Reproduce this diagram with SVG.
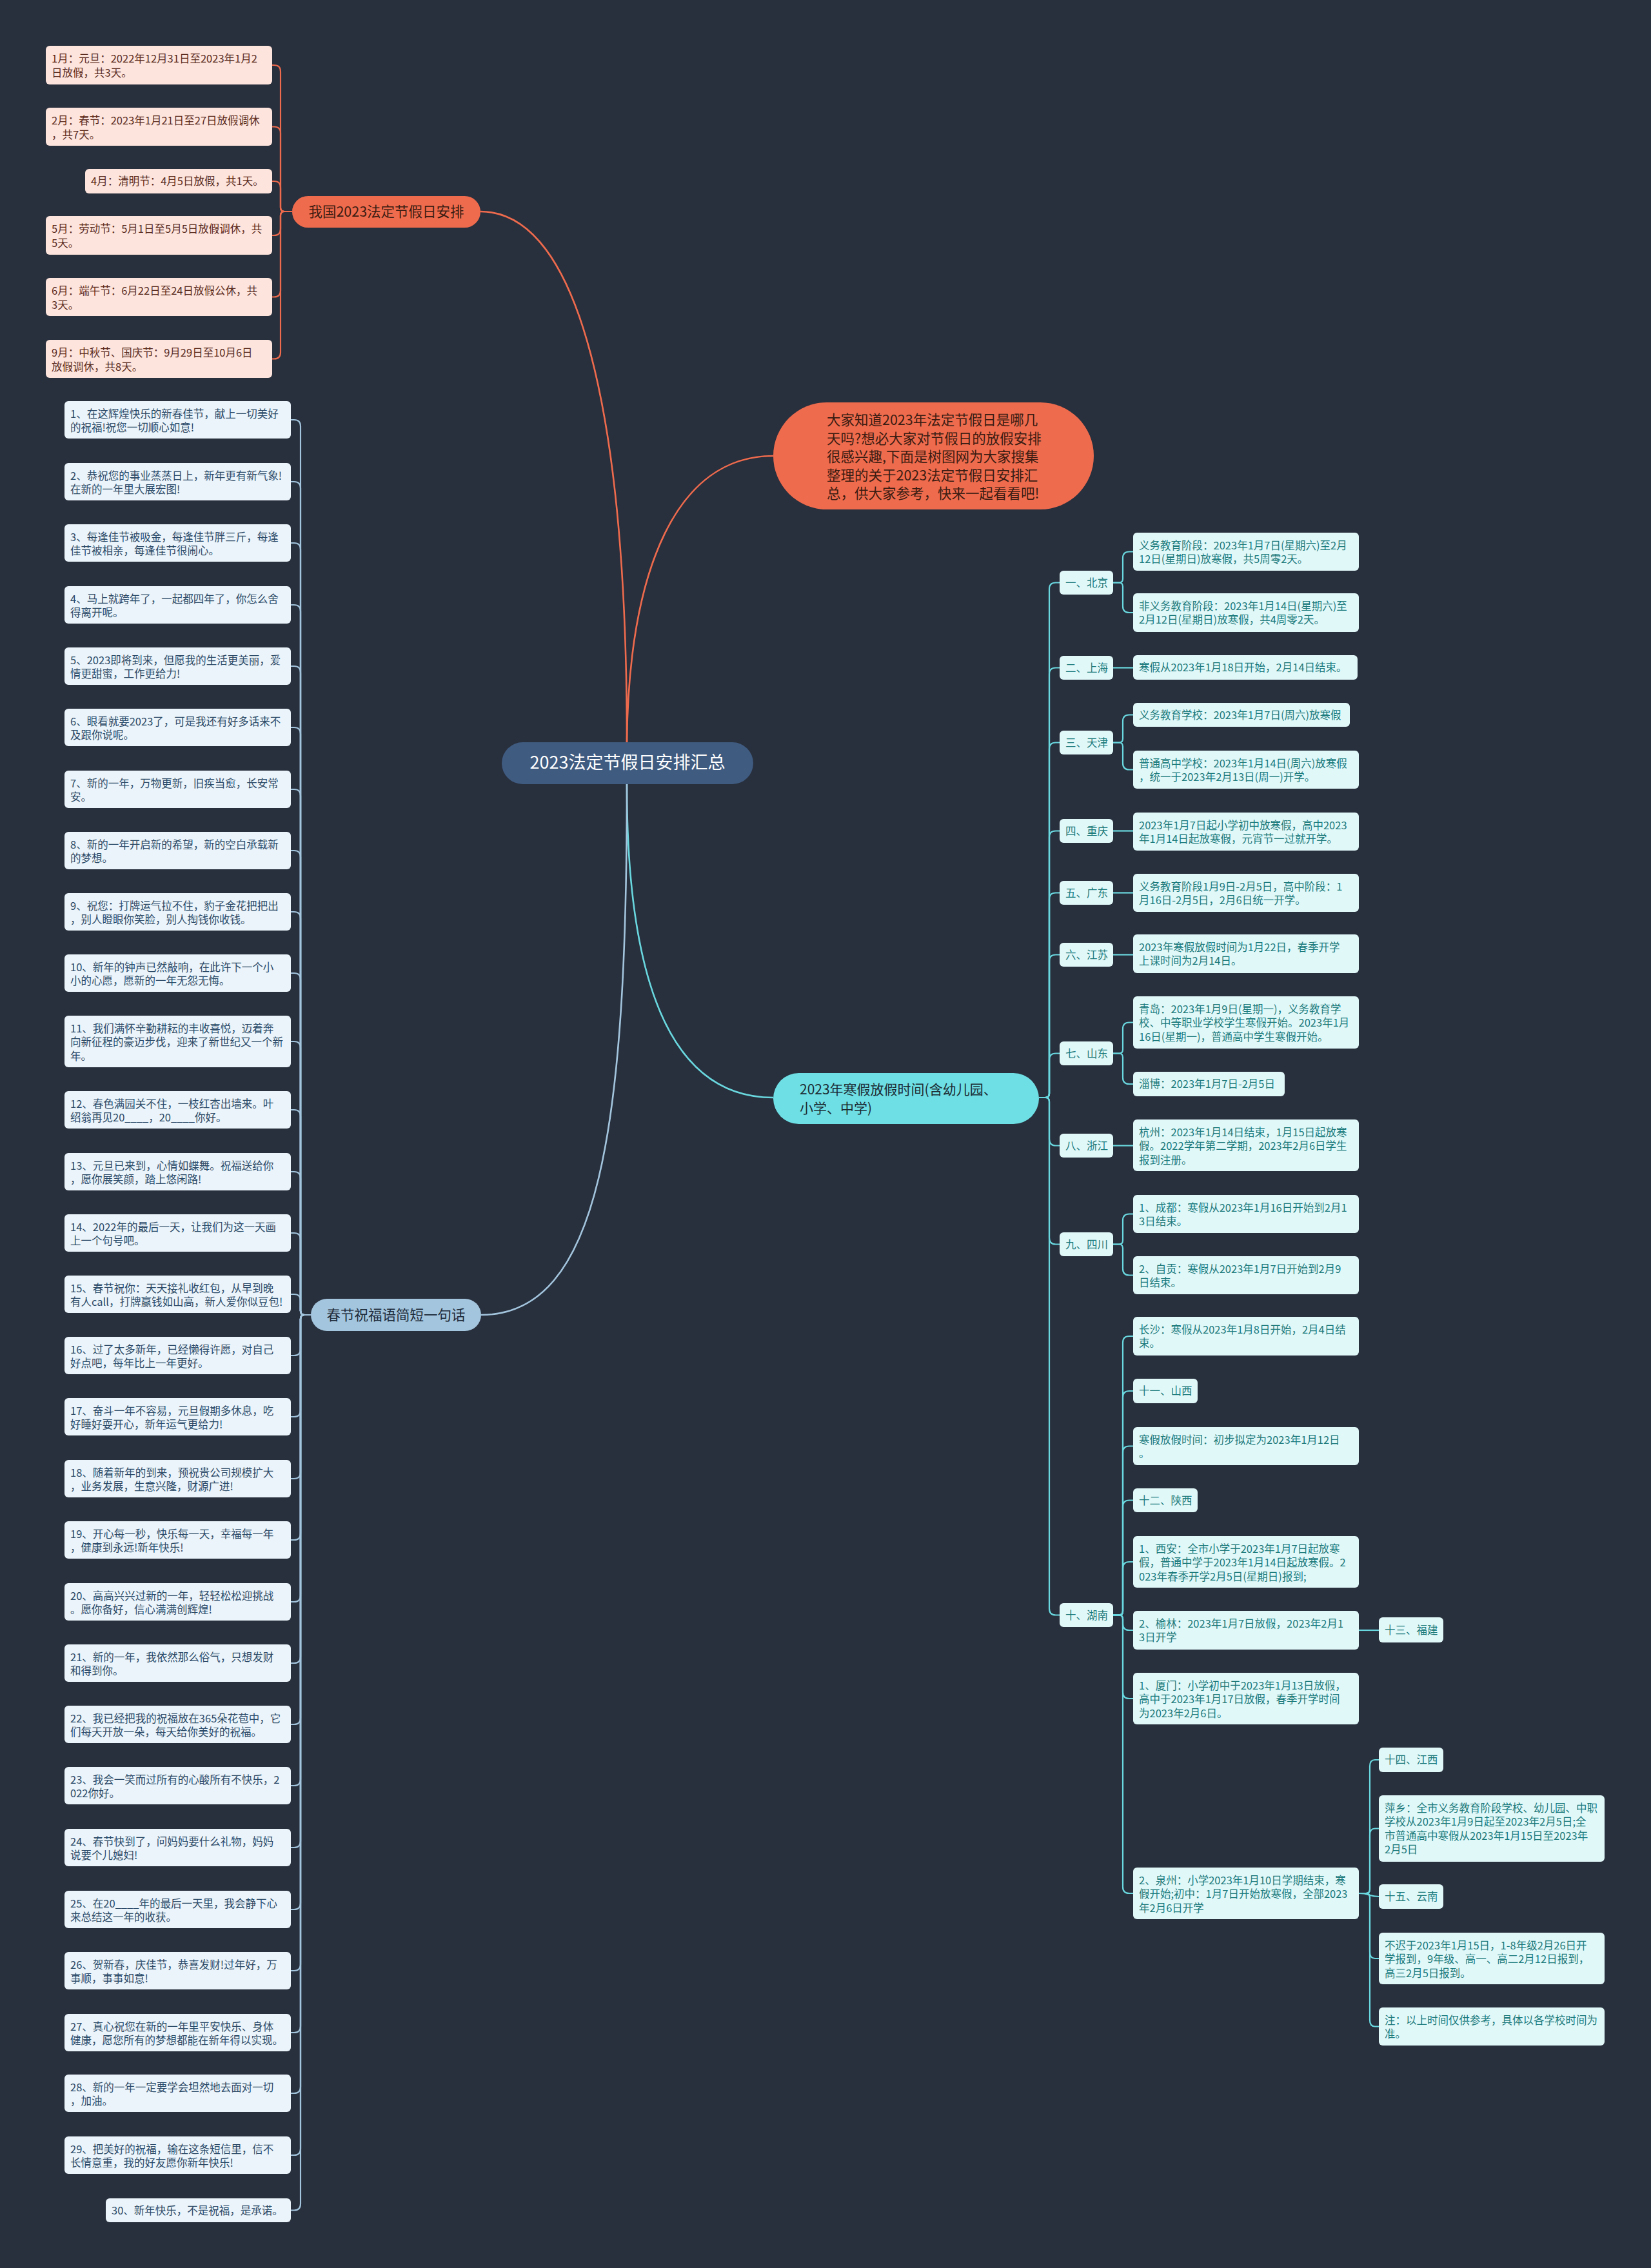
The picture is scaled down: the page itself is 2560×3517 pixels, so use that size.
<svg xmlns="http://www.w3.org/2000/svg" width="2560" height="3517" viewBox="0 0 2560 3517">
<style>
text{font-family:"Noto Sans CJK SC","Noto Sans",sans-serif;font-size:16.5px}
.c path{fill:none;stroke-width:2.2}
.co path{stroke:#ef6b4d}
.cc path{stroke:#6ad8df}
.cb path{stroke:#a3c5dd}
.main{stroke-width:2.6!important}
.tl rect{fill:#fde4dc}.tl text{fill:#5a2b1e}
.rl rect{fill:#e1f8f9}.rl text{fill:#1b7a7b}
.bl rect{fill:#ebf4fa}.bl text{fill:#2b4a68}
.big{font-size:21.5px}
</style>
<rect width="2560" height="3517" fill="#282f3d"/>

<g id="connectors" class="c">
<g class="co">
<path class="main" d="M745,328 C900,328 972,650 972,1151"/>
<path class="main" d="M972,1151 C975,880 1050,707 1199,707"/>
<path d="M453,328H441Q435,328 435,322V111Q435,101 425,101H422"/>
<path d="M453,328H441Q435,328 435,322V206.5Q435,196.5 425,196.5H422"/>
<path d="M453,328H441Q435,328 435,322V291Q435,281 425,281H422"/>
<path d="M453,328H441Q435,328 435,334V355Q435,365 425,365H422"/>
<path d="M453,328H441Q435,328 435,334V450.5Q435,460.5 425,460.5H422"/>
<path d="M453,328H441Q435,328 435,334V546.5Q435,556.5 425,556.5H422"/>
</g>
<g class="cc">
<path class="main" d="M972,1216 C972,1500 1030,1702 1199,1702"/>
<path d="M1611,1702H1621Q1627,1702 1627,1696V913.5Q1627,903.5 1637,903.5H1643"/>
<path d="M1611,1702H1621Q1627,1702 1627,1696V1045.5Q1627,1035.5 1637,1035.5H1643"/>
<path d="M1611,1702H1621Q1627,1702 1627,1696V1161.5Q1627,1151.5 1637,1151.5H1643"/>
<path d="M1611,1702H1621Q1627,1702 1627,1696V1298.5Q1627,1288.5 1637,1288.5H1643"/>
<path d="M1611,1702H1621Q1627,1702 1627,1696V1394.5Q1627,1384.5 1637,1384.5H1643"/>
<path d="M1611,1702H1621Q1627,1702 1627,1696V1490.5Q1627,1480.5 1637,1480.5H1643"/>
<path d="M1611,1702H1621Q1627,1702 1627,1696V1643.5Q1627,1633.5 1637,1633.5H1643"/>
<path d="M1611,1702H1621Q1627,1702 1627,1708V1766.5Q1627,1776.5 1637,1776.5H1643"/>
<path d="M1611,1702H1621Q1627,1702 1627,1708V1919.5Q1627,1929.5 1637,1929.5H1643"/>
<path d="M1611,1702H1621Q1627,1702 1627,1708V2494.5Q1627,2504.5 1637,2504.5H1643"/>
<path d="M1726,903.5H1735Q1741,903.5 1741,897.5V865.5Q1741,855.5 1751,855.5H1757"/>
<path d="M1726,903.5H1735Q1741,903.5 1741,909.5V940Q1741,950 1751,950H1757"/>
<path d="M1726,1035.5H1757"/>
<path d="M1726,1151.5H1735Q1741,1151.5 1741,1145.5V1118.5Q1741,1108.5 1751,1108.5H1757"/>
<path d="M1726,1151.5H1735Q1741,1151.5 1741,1157.5V1183.5Q1741,1193.5 1751,1193.5H1757"/>
<path d="M1726,1288.5H1757"/>
<path d="M1726,1384.5H1757"/>
<path d="M1726,1480.5H1757"/>
<path d="M1726,1633.5H1735Q1741,1633.5 1741,1627.5V1595.5Q1741,1585.5 1751,1585.5H1757"/>
<path d="M1726,1633.5H1735Q1741,1633.5 1741,1639.5V1671Q1741,1681 1751,1681H1757"/>
<path d="M1726,1776.5H1757"/>
<path d="M1726,1929.5H1735Q1741,1929.5 1741,1923.5V1892.5Q1741,1882.5 1751,1882.5H1757"/>
<path d="M1726,1929.5H1735Q1741,1929.5 1741,1935.5V1967.5Q1741,1977.5 1751,1977.5H1757"/>
<path d="M1726,2504.5H1735Q1741,2504.5 1741,2498.5V2082Q1741,2072 1751,2072H1757"/>
<path d="M1726,2504.5H1735Q1741,2504.5 1741,2498.5V2167Q1741,2157 1751,2157H1757"/>
<path d="M1726,2504.5H1735Q1741,2504.5 1741,2498.5V2252.5Q1741,2242.5 1751,2242.5H1757"/>
<path d="M1726,2504.5H1735Q1741,2504.5 1741,2498.5V2336.5Q1741,2326.5 1751,2326.5H1757"/>
<path d="M1726,2504.5H1735Q1741,2504.5 1741,2498.5V2432Q1741,2422 1751,2422H1757"/>
<path d="M1726,2504.5H1735Q1741,2504.5 1741,2510.5V2518Q1741,2528 1751,2528H1757"/>
<path d="M1726,2504.5H1735Q1741,2504.5 1741,2510.5V2624Q1741,2634 1751,2634H1757"/>
<path d="M1726,2504.5H1735Q1741,2504.5 1741,2510.5V2926Q1741,2936 1751,2936H1757"/>
<path d="M2107,2528H2138"/>
<path d="M2107,2936H2118Q2124,2936 2124,2930V2739Q2124,2729 2132,2729H2138"/>
<path d="M2107,2936H2118Q2124,2936 2124,2930V2845.5Q2124,2835.5 2132,2835.5H2138"/>
<path d="M2107,2936C2124,2936 2122,2941 2138,2941"/>
<path d="M2107,2936H2118Q2124,2936 2124,2942V3027Q2124,3037 2132,3037H2138"/>
<path d="M2107,2936H2118Q2124,2936 2124,2942V3132.5Q2124,3142.5 2132,3142.5H2138"/>
</g>
<g class="cb">
<path class="main" d="M972,1216 C972,1750 930,2039 746,2039"/>
<path d="M482,2039H472Q466,2039 466,2033V661Q466,651 456,651H451"/>
<path d="M482,2039H472Q466,2039 466,2033V757Q466,747 456,747H451"/>
<path d="M482,2039H472Q466,2039 466,2033V852Q466,842 456,842H451"/>
<path d="M482,2039H472Q466,2039 466,2033V948Q466,938 456,938H451"/>
<path d="M482,2039H472Q466,2039 466,2033V1043Q466,1033 456,1033H451"/>
<path d="M482,2039H472Q466,2039 466,2033V1138Q466,1128 456,1128H451"/>
<path d="M482,2039H472Q466,2039 466,2033V1234Q466,1224 456,1224H451"/>
<path d="M482,2039H472Q466,2039 466,2033V1329Q466,1319 456,1319H451"/>
<path d="M482,2039H472Q466,2039 466,2033V1424Q466,1414 456,1414H451"/>
<path d="M482,2039H472Q466,2039 466,2033V1519Q466,1509 456,1509H451"/>
<path d="M482,2039H472Q466,2039 466,2033V1625Q466,1615 456,1615H451"/>
<path d="M482,2039H472Q466,2039 466,2033V1731Q466,1721 456,1721H451"/>
<path d="M482,2039H472Q466,2039 466,2033V1827Q466,1817 456,1817H451"/>
<path d="M482,2039H472Q466,2039 466,2033V1922Q466,1912 456,1912H451"/>
<path d="M482,2039H472Q466,2039 466,2033V2017Q466,2007 456,2007H451"/>
<path d="M482,2039H472Q466,2039 466,2045V2092Q466,2102 456,2102H451"/>
<path d="M482,2039H472Q466,2039 466,2045V2187Q466,2197 456,2197H451"/>
<path d="M482,2039H472Q466,2039 466,2045V2283Q466,2293 456,2293H451"/>
<path d="M482,2039H472Q466,2039 466,2045V2378Q466,2388 456,2388H451"/>
<path d="M482,2039H472Q466,2039 466,2045V2474Q466,2484 456,2484H451"/>
<path d="M482,2039H472Q466,2039 466,2045V2569Q466,2579 456,2579H451"/>
<path d="M482,2039H472Q466,2039 466,2045V2664Q466,2674 456,2674H451"/>
<path d="M482,2039H472Q466,2039 466,2045V2759Q466,2769 456,2769H451"/>
<path d="M482,2039H472Q466,2039 466,2045V2855Q466,2865 456,2865H451"/>
<path d="M482,2039H472Q466,2039 466,2045V2951Q466,2961 456,2961H451"/>
<path d="M482,2039H472Q466,2039 466,2045V3046Q466,3056 456,3056H451"/>
<path d="M482,2039H472Q466,2039 466,2045V3142Q466,3152 456,3152H451"/>
<path d="M482,2039H472Q466,2039 466,2045V3236Q466,3246 456,3246H451"/>
<path d="M482,2039H472Q466,2039 466,2045V3332Q466,3342 456,3342H451"/>
<path d="M482,2039H472Q466,2039 466,2045V3417.5Q466,3427.5 456,3427.5H451"/>
</g>
</g>

<g id="center"><rect x="778" y="1151" width="390" height="65" rx="32.5" fill="#3f5b80"/><text x="973" y="1192" text-anchor="middle" fill="#ffffff" style="font-size:27px">2023法定节假日安排汇总</text></g>

<g id="intro"><rect x="1199" y="624" width="497" height="166" rx="83" fill="#ef6b4d"/><text class="big" x="1282" y="659" fill="#3b1c12"><tspan>大家知道2023年法定节假日是哪几</tspan><tspan x="1282" dy="28.6">天吗?想必大家对节假日的放假安排</tspan><tspan x="1282" dy="28.6">很感兴趣,下面是树图网为大家搜集</tspan><tspan x="1282" dy="28.6">整理的关于2023法定节假日安排汇</tspan><tspan x="1282" dy="28.6">总，供大家参考，快来一起看看吧!</tspan></text></g>

<g id="holiday"><rect x="453" y="304" width="292" height="49" rx="24.5" fill="#ef6b4d"/><text class="big" x="599" y="335.5" text-anchor="middle" fill="#3b1c12">我国2023法定节假日安排</text></g>
<g id="n-jan" class="tl"><rect x="71" y="71" width="351" height="60" rx="6"/><text x="80" y="97"><tspan>1月：元旦：2022年12月31日至2023年1月2</tspan><tspan x="80" dy="21.5">日放假，共3天。</tspan></text></g>
<g id="n-feb" class="tl"><rect x="71" y="167" width="351" height="59" rx="6"/><text x="80" y="193"><tspan>2月：春节：2023年1月21日至27日放假调休</tspan><tspan x="80" dy="21.5">，共7天。</tspan></text></g>
<g id="n-apr" class="tl"><rect x="132" y="262" width="290" height="38" rx="6"/><text x="141" y="287">4月：清明节：4月5日放假，共1天。</text></g>
<g id="n-may" class="tl"><rect x="71" y="335" width="351" height="60" rx="6"/><text x="80" y="361"><tspan>5月：劳动节：5月1日至5月5日放假调休，共</tspan><tspan x="80" dy="21.5">5天。</tspan></text></g>
<g id="n-jun" class="tl"><rect x="71" y="431" width="351" height="59" rx="6"/><text x="80" y="457"><tspan>6月：端午节：6月22日至24日放假公休，共</tspan><tspan x="80" dy="21.5">3天。</tspan></text></g>
<g id="n-sep" class="tl"><rect x="71" y="527" width="351" height="59" rx="6"/><text x="80" y="553"><tspan>9月：中秋节、国庆节：9月29日至10月6日</tspan><tspan x="80" dy="21.5">放假调休，共8天。</tspan></text></g>

<g id="winter"><rect x="1199" y="1664" width="412" height="79" rx="39.5" fill="#6edfe4"/><text x="1240" y="1697" fill="#1c2b33" style="font-size:21px"><tspan>2023年寒假放假时间(含幼儿园、</tspan><tspan x="1240" dy="29">小学、中学)</tspan></text></g>

<g id="p-bj" class="rl"><rect x="1643" y="885" width="83" height="37" rx="6"/><text x="1652" y="909.5">一、北京</text></g>
<g id="p-sh" class="rl"><rect x="1643" y="1017" width="83" height="37" rx="6"/><text x="1652" y="1041.5">二、上海</text></g>
<g id="p-tj" class="rl"><rect x="1643" y="1133" width="83" height="37" rx="6"/><text x="1652" y="1157.5">三、天津</text></g>
<g id="p-cq" class="rl"><rect x="1643" y="1270" width="83" height="37" rx="6"/><text x="1652" y="1294.5">四、重庆</text></g>
<g id="p-gd" class="rl"><rect x="1643" y="1366" width="83" height="37" rx="6"/><text x="1652" y="1390.5">五、广东</text></g>
<g id="p-js" class="rl"><rect x="1643" y="1462" width="83" height="37" rx="6"/><text x="1652" y="1486.5">六、江苏</text></g>
<g id="p-sd" class="rl"><rect x="1643" y="1615" width="83" height="37" rx="6"/><text x="1652" y="1639.5">七、山东</text></g>
<g id="p-zj" class="rl"><rect x="1643" y="1758" width="83" height="37" rx="6"/><text x="1652" y="1782.5">八、浙江</text></g>
<g id="p-sc" class="rl"><rect x="1643" y="1911" width="83" height="37" rx="6"/><text x="1652" y="1935.5">九、四川</text></g>
<g id="p-hn" class="rl"><rect x="1643" y="2486" width="83" height="37" rx="6"/><text x="1652" y="2510.5">十、湖南</text></g>

<g id="l-bj1" class="rl"><rect x="1757" y="826" width="350" height="59" rx="6"/><text x="1766" y="851.5"><tspan>义务教育阶段：2023年1月7日(星期六)至2月</tspan><tspan x="1766" dy="21.5">12日(星期日)放寒假，共5周零2天。</tspan></text></g>
<g id="l-bj2" class="rl"><rect x="1757" y="920" width="350" height="60" rx="6"/><text x="1766" y="945.5"><tspan>非义务教育阶段：2023年1月14日(星期六)至</tspan><tspan x="1766" dy="21.5">2月12日(星期日)放寒假，共4周零2天。</tspan></text></g>
<g id="l-sh1" class="rl"><rect x="1757" y="1016" width="348" height="38" rx="6"/><text x="1766" y="1041">寒假从2023年1月18日开始，2月14日结束。</text></g>
<g id="l-tj1" class="rl"><rect x="1757" y="1090" width="336" height="37" rx="6"/><text x="1766" y="1114.5">义务教育学校：2023年1月7日(周六)放寒假</text></g>
<g id="l-tj2" class="rl"><rect x="1757" y="1164" width="350" height="59" rx="6"/><text x="1766" y="1189.5"><tspan>普通高中学校：2023年1月14日(周六)放寒假</tspan><tspan x="1766" dy="21.5">，统一于2023年2月13日(周一)开学。</tspan></text></g>
<g id="l-cq1" class="rl"><rect x="1757" y="1260" width="350" height="59" rx="6"/><text x="1766" y="1285.5"><tspan>2023年1月7日起小学初中放寒假，高中2023</tspan><tspan x="1766" dy="21.5">年1月14日起放寒假，元宵节一过就开学。</tspan></text></g>
<g id="l-gd1" class="rl"><rect x="1757" y="1355" width="350" height="59" rx="6"/><text x="1766" y="1380.5"><tspan>义务教育阶段1月9日-2月5日，高中阶段：1</tspan><tspan x="1766" dy="21.5">月16日-2月5日，2月6日统一开学。</tspan></text></g>
<g id="l-js1" class="rl"><rect x="1757" y="1449" width="350" height="60" rx="6"/><text x="1766" y="1474.5"><tspan>2023年寒假放假时间为1月22日，春季开学</tspan><tspan x="1766" dy="21.5">上课时间为2月14日。</tspan></text></g>
<g id="l-sd1" class="rl"><rect x="1757" y="1545" width="350" height="81" rx="6"/><text x="1766" y="1570.5"><tspan>青岛：2023年1月9日(星期一)，义务教育学</tspan><tspan x="1766" dy="21.5">校、中等职业学校学生寒假开始。2023年1月</tspan><tspan x="1766" dy="21.5">16日(星期一)，普通高中学生寒假开始。</tspan></text></g>
<g id="l-sd2" class="rl"><rect x="1757" y="1662" width="235" height="38" rx="6"/><text x="1766" y="1687">淄博：2023年1月7日-2月5日</text></g>
<g id="l-zj1" class="rl"><rect x="1757" y="1736" width="350" height="80" rx="6"/><text x="1766" y="1761.5"><tspan>杭州：2023年1月14日结束，1月15日起放寒</tspan><tspan x="1766" dy="21.5">假。2022学年第二学期，2023年2月6日学生</tspan><tspan x="1766" dy="21.5">报到注册。</tspan></text></g>
<g id="l-sc1" class="rl"><rect x="1757" y="1853" width="350" height="59" rx="6"/><text x="1766" y="1878.5"><tspan>1、成都：寒假从2023年1月16日开始到2月1</tspan><tspan x="1766" dy="21.5">3日结束。</tspan></text></g>
<g id="l-sc2" class="rl"><rect x="1757" y="1948" width="350" height="59" rx="6"/><text x="1766" y="1973.5"><tspan>2、自贡：寒假从2023年1月7日开始到2月9</tspan><tspan x="1766" dy="21.5">日结束。</tspan></text></g>
<g id="l-cs" class="rl"><rect x="1757" y="2042" width="350" height="60" rx="6"/><text x="1766" y="2067.5"><tspan>长沙：寒假从2023年1月8日开始，2月4日结</tspan><tspan x="1766" dy="21.5">束。</tspan></text></g>
<g id="l-sx" class="rl"><rect x="1757" y="2138" width="100" height="38" rx="6"/><text x="1766" y="2163">十一、山西</text></g>
<g id="l-hj" class="rl"><rect x="1757" y="2213" width="350" height="59" rx="6"/><text x="1766" y="2238.5"><tspan>寒假放假时间：初步拟定为2023年1月12日</tspan><tspan x="1766" dy="21.5">。</tspan></text></g>
<g id="l-shx" class="rl"><rect x="1757" y="2308" width="100" height="37" rx="6"/><text x="1766" y="2332.5">十二、陕西</text></g>
<g id="l-xa" class="rl"><rect x="1757" y="2382" width="350" height="80" rx="6"/><text x="1766" y="2407.5"><tspan>1、西安：全市小学于2023年1月7日起放寒</tspan><tspan x="1766" dy="21.5">假，普通中学于2023年1月14日起放寒假。2</tspan><tspan x="1766" dy="21.5">023年春季开学2月5日(星期日)报到;</tspan></text></g>
<g id="l-yl" class="rl"><rect x="1757" y="2498" width="350" height="60" rx="6"/><text x="1766" y="2523.5"><tspan>2、榆林：2023年1月7日放假，2023年2月1</tspan><tspan x="1766" dy="21.5">3日开学</tspan></text></g>
<g id="l-fj" class="rl"><rect x="2138" y="2508" width="100" height="39" rx="6"/><text x="2147" y="2533.5">十三、福建</text></g>
<g id="l-xm" class="rl"><rect x="1757" y="2594" width="350" height="80" rx="6"/><text x="1766" y="2619.5"><tspan>1、厦门：小学初中于2023年1月13日放假，</tspan><tspan x="1766" dy="21.5">高中于2023年1月17日放假，春季开学时间</tspan><tspan x="1766" dy="21.5">为2023年2月6日。</tspan></text></g>
<g id="l-qz" class="rl"><rect x="1757" y="2896" width="350" height="80" rx="6"/><text x="1766" y="2921.5"><tspan>2、泉州：小学2023年1月10日学期结束，寒</tspan><tspan x="1766" dy="21.5">假开始;初中：1月7日开始放寒假，全部2023</tspan><tspan x="1766" dy="21.5">年2月6日开学</tspan></text></g>
<g id="l-jx" class="rl"><rect x="2138" y="2710" width="100" height="38" rx="6"/><text x="2147" y="2735">十四、江西</text></g>
<g id="l-px" class="rl"><rect x="2138" y="2784" width="350" height="103" rx="6"/><text x="2147" y="2809.5"><tspan>萍乡：全市义务教育阶段学校、幼儿园、中职</tspan><tspan x="2147" dy="21.5">学校从2023年1月9日起至2023年2月5日;全</tspan><tspan x="2147" dy="21.5">市普通高中寒假从2023年1月15日至2023年</tspan><tspan x="2147" dy="21.5">2月5日</tspan></text></g>
<g id="l-yn" class="rl"><rect x="2138" y="2922" width="100" height="38" rx="6"/><text x="2147" y="2947">十五、云南</text></g>
<g id="l-bc" class="rl"><rect x="2138" y="2997" width="350" height="80" rx="6"/><text x="2147" y="3022.5"><tspan>不迟于2023年1月15日，1-8年级2月26日开</tspan><tspan x="2147" dy="21.5">学报到，9年级、高一、高二2月12日报到，</tspan><tspan x="2147" dy="21.5">高三2月5日报到。</tspan></text></g>
<g id="l-zhu" class="rl"><rect x="2138" y="3113" width="350" height="59" rx="6"/><text x="2147" y="3138.5"><tspan>注：以上时间仅供参考，具体以各学校时间为</tspan><tspan x="2147" dy="21.5">准。</tspan></text></g>

<g id="greetings"><rect x="482" y="2014" width="264" height="50" rx="25" fill="#a3c5dd"/><text class="big" x="614" y="2046.5" text-anchor="middle" fill="#1e2b3a">春节祝福语简短一句话</text></g>
<g id="g1" class="bl"><rect x="100" y="622" width="351" height="58" rx="6"/><text x="109" y="647.5"><tspan>1、在这辉煌快乐的新春佳节，献上一切美好</tspan><tspan x="109" dy="21.5">的祝福!祝您一切顺心如意!</tspan></text></g>
<g id="g2" class="bl"><rect x="100" y="718" width="351" height="58" rx="6"/><text x="109" y="743.5"><tspan>2、恭祝您的事业蒸蒸日上，新年更有新气象!</tspan><tspan x="109" dy="21.5">在新的一年里大展宏图!</tspan></text></g>
<g id="g3" class="bl"><rect x="100" y="813" width="351" height="58" rx="6"/><text x="109" y="838.5"><tspan>3、每逢佳节被吸金，每逢佳节胖三斤，每逢</tspan><tspan x="109" dy="21.5">佳节被相亲，每逢佳节很闹心。</tspan></text></g>
<g id="g4" class="bl"><rect x="100" y="909" width="351" height="58" rx="6"/><text x="109" y="934.5"><tspan>4、马上就跨年了，一起都四年了，你怎么舍</tspan><tspan x="109" dy="21.5">得离开呢。</tspan></text></g>
<g id="g5" class="bl"><rect x="100" y="1004" width="351" height="58" rx="6"/><text x="109" y="1029.5"><tspan>5、2023即将到来，但愿我的生活更美丽，爱</tspan><tspan x="109" dy="21.5">情更甜蜜，工作更给力!</tspan></text></g>
<g id="g6" class="bl"><rect x="100" y="1099" width="351" height="58" rx="6"/><text x="109" y="1124.5"><tspan>6、眼看就要2023了，可是我还有好多话来不</tspan><tspan x="109" dy="21.5">及跟你说呢。</tspan></text></g>
<g id="g7" class="bl"><rect x="100" y="1195" width="351" height="58" rx="6"/><text x="109" y="1220.5"><tspan>7、新的一年，万物更新，旧疾当愈，长安常</tspan><tspan x="109" dy="21.5">安。</tspan></text></g>
<g id="g8" class="bl"><rect x="100" y="1290" width="351" height="58" rx="6"/><text x="109" y="1315.5"><tspan>8、新的一年开启新的希望，新的空白承载新</tspan><tspan x="109" dy="21.5">的梦想。</tspan></text></g>
<g id="g9" class="bl"><rect x="100" y="1385" width="351" height="58" rx="6"/><text x="109" y="1410.5"><tspan>9、祝您：打牌运气拉不住，豹子金花把把出</tspan><tspan x="109" dy="21.5">，别人瞪眼你笑脸，别人掏钱你收钱。</tspan></text></g>
<g id="g10" class="bl"><rect x="100" y="1480" width="351" height="58" rx="6"/><text x="109" y="1505.5"><tspan>10、新年的钟声已然敲响，在此许下一个小</tspan><tspan x="109" dy="21.5">小的心愿，愿新的一年无怨无悔。</tspan></text></g>
<g id="g11" class="bl"><rect x="100" y="1575" width="351" height="80" rx="6"/><text x="109" y="1600.5"><tspan>11、我们满怀辛勤耕耘的丰收喜悦，迈着奔</tspan><tspan x="109" dy="21.5">向新征程的豪迈步伐，迎来了新世纪又一个新</tspan><tspan x="109" dy="21.5">年。</tspan></text></g>
<g id="g12" class="bl"><rect x="100" y="1692" width="351" height="58" rx="6"/><text x="109" y="1717.5"><tspan>12、春色满园关不住，一枝红杏出墙来。叶</tspan><tspan x="109" dy="21.5">绍翁再见20____，20____你好。</tspan></text></g>
<g id="g13" class="bl"><rect x="100" y="1788" width="351" height="58" rx="6"/><text x="109" y="1813.5"><tspan>13、元旦已来到，心情如蝶舞。祝福送给你</tspan><tspan x="109" dy="21.5">，愿你展笑颜，踏上悠闲路!</tspan></text></g>
<g id="g14" class="bl"><rect x="100" y="1883" width="351" height="58" rx="6"/><text x="109" y="1908.5"><tspan>14、2022年的最后一天，让我们为这一天画</tspan><tspan x="109" dy="21.5">上一个句号吧。</tspan></text></g>
<g id="g15" class="bl"><rect x="100" y="1978" width="351" height="58" rx="6"/><text x="109" y="2003.5"><tspan>15、春节祝你：天天接礼收红包，从早到晚</tspan><tspan x="109" dy="21.5">有人call，打牌赢钱如山高，新人爱你似豆包!</tspan></text></g>
<g id="g16" class="bl"><rect x="100" y="2073" width="351" height="58" rx="6"/><text x="109" y="2098.5"><tspan>16、过了太多新年，已经懒得许愿，对自己</tspan><tspan x="109" dy="21.5">好点吧，每年比上一年更好。</tspan></text></g>
<g id="g17" class="bl"><rect x="100" y="2168" width="351" height="58" rx="6"/><text x="109" y="2193.5"><tspan>17、奋斗一年不容易，元旦假期多休息，吃</tspan><tspan x="109" dy="21.5">好睡好耍开心，新年运气更给力!</tspan></text></g>
<g id="g18" class="bl"><rect x="100" y="2264" width="351" height="58" rx="6"/><text x="109" y="2289.5"><tspan>18、随着新年的到来，预祝贵公司规模扩大</tspan><tspan x="109" dy="21.5">，业务发展，生意兴隆，财源广进!</tspan></text></g>
<g id="g19" class="bl"><rect x="100" y="2359" width="351" height="58" rx="6"/><text x="109" y="2384.5"><tspan>19、开心每一秒，快乐每一天，幸福每一年</tspan><tspan x="109" dy="21.5">，健康到永远!新年快乐!</tspan></text></g>
<g id="g20" class="bl"><rect x="100" y="2455" width="351" height="58" rx="6"/><text x="109" y="2480.5"><tspan>20、高高兴兴过新的一年，轻轻松松迎挑战</tspan><tspan x="109" dy="21.5">。愿你备好，信心满满创辉煌!</tspan></text></g>
<g id="g21" class="bl"><rect x="100" y="2550" width="351" height="58" rx="6"/><text x="109" y="2575.5"><tspan>21、新的一年，我依然那么俗气，只想发财</tspan><tspan x="109" dy="21.5">和得到你。</tspan></text></g>
<g id="g22" class="bl"><rect x="100" y="2645" width="351" height="58" rx="6"/><text x="109" y="2670.5"><tspan>22、我已经把我的祝福放在365朵花苞中，它</tspan><tspan x="109" dy="21.5">们每天开放一朵，每天给你美好的祝福。</tspan></text></g>
<g id="g23" class="bl"><rect x="100" y="2740" width="351" height="58" rx="6"/><text x="109" y="2765.5"><tspan>23、我会一笑而过所有的心酸所有不快乐，2</tspan><tspan x="109" dy="21.5">022你好。</tspan></text></g>
<g id="g24" class="bl"><rect x="100" y="2836" width="351" height="58" rx="6"/><text x="109" y="2861.5"><tspan>24、春节快到了，问妈妈要什么礼物，妈妈</tspan><tspan x="109" dy="21.5">说要个儿媳妇!</tspan></text></g>
<g id="g25" class="bl"><rect x="100" y="2932" width="351" height="58" rx="6"/><text x="109" y="2957.5"><tspan>25、在20____年的最后一天里，我会静下心</tspan><tspan x="109" dy="21.5">来总结这一年的收获。</tspan></text></g>
<g id="g26" class="bl"><rect x="100" y="3027" width="351" height="58" rx="6"/><text x="109" y="3052.5"><tspan>26、贺新春，庆佳节，恭喜发财!过年好，万</tspan><tspan x="109" dy="21.5">事顺，事事如意!</tspan></text></g>
<g id="g27" class="bl"><rect x="100" y="3123" width="351" height="58" rx="6"/><text x="109" y="3148.5"><tspan>27、真心祝您在新的一年里平安快乐、身体</tspan><tspan x="109" dy="21.5">健康，愿您所有的梦想都能在新年得以实现。</tspan></text></g>
<g id="g28" class="bl"><rect x="100" y="3217" width="351" height="58" rx="6"/><text x="109" y="3242.5"><tspan>28、新的一年一定要学会坦然地去面对一切</tspan><tspan x="109" dy="21.5">，加油。</tspan></text></g>
<g id="g29" class="bl"><rect x="100" y="3313" width="351" height="58" rx="6"/><text x="109" y="3338.5"><tspan>29、把美好的祝福，输在这条短信里，信不</tspan><tspan x="109" dy="21.5">长情意重，我的好友愿你新年快乐!</tspan></text></g>
<g id="g30" class="bl"><rect x="164" y="3409" width="287" height="37" rx="6"/><text x="173" y="3434">30、新年快乐，不是祝福，是承诺。</text></g>
</svg>
